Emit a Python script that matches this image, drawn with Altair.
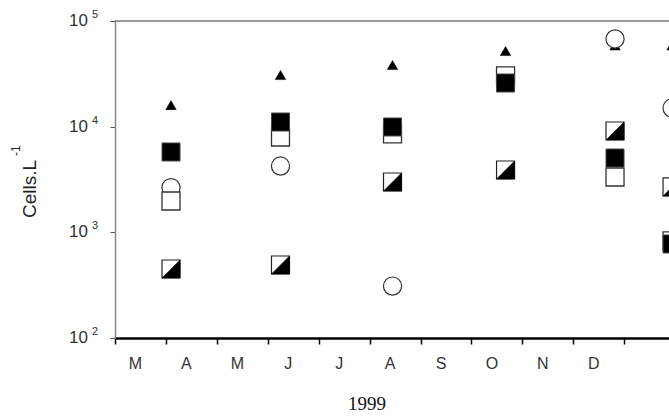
import altair as alt
import pandas as pd

months = ["M", "A", "M", "J", "J", "A", "S", "O", "N", "D"]
col_x = [1.10, 3.25, 5.45, 7.67, 9.82, 10.94]
triangle_vals = [16000, 30800, 38300, 52000, 58700, 58700]
circle_vals = [2650, 4240, 310, None, 67600, 15000]
open_sq_vals = [1980, 7980, 8530, 30200, 3340, 830]
filled_sq_vals = [5760, 11070, 9930, 25900, 5050, 776]
half_sq_vals = [450, 491, 2995, 3890, 9100, 2690]
y_exponents = [2, 3, 4, 5]
x_domain_max = 10.88
year_label = "1999"


def frame(vals):
    pts = [(x, v) for x, v in zip(col_x, vals) if v is not None]
    return pd.DataFrame({"x": [p[0] for p in pts], "y": [p[1] for p in pts]})


W, H = 554, 317
FONT = "Liberation Sans"

xs = alt.Scale(domain=[0, x_domain_max], nice=False, zero=False)
ys = alt.Scale(type="log", domain=[100, 100000], nice=False)

label_expr = "[" + ",".join("'%s'" % m for m in months) + "][datum.value] || ''"
x_axis = alt.Axis(values=list(range(11)), labelExpr=label_expr, labelOffset=20,
                  tickSize=6, tickColor="#000", tickWidth=1.5,
                  domainColor="#000", domainWidth=2.5,
                  labelFont=FONT, labelFontSize=16, labelColor="#333",
                  labelPadding=11, grid=False, title=None,
                  labelFlush=False, labelOverlap=False)
y_axis = alt.Axis(values=[100, 1000, 10000, 100000], labels=False,
                  tickSize=5, tickColor="#555", tickWidth=1,
                  domainColor="#888", domainWidth=1.5, grid=False, title=None)

X = alt.X("x:Q", scale=xs, axis=x_axis)
Y = alt.Y("y:Q", scale=ys, axis=y_axis)


def pts(vals, **kw):
    return alt.Chart(frame(vals)).mark_point(clip=True, opacity=1, **kw).encode(x=X, y=Y)


tri = pts(triangle_vals, shape="triangle-up", filled=True, fill="black",
          stroke="black", strokeWidth=0.5, size=110)
circ = pts(circle_vals, shape="circle", filled=True, fill="white",
           stroke="#333", strokeWidth=1.2, size=330)
open_sq = pts(open_sq_vals, shape="square", filled=True, fill="white",
              stroke="#333", strokeWidth=1.3, size=324)
filled_sq = pts(filled_sq_vals, shape="square", filled=True, fill="black",
                stroke="#444", strokeWidth=1.0, size=324)
half_bg = pts(half_sq_vals, shape="square", filled=True, fill="white",
              stroke="#222", strokeWidth=1.2, size=324)
half_fg = pts(half_sq_vals, shape="M1,-1L1,1L-1,1Z", filled=True, fill="black",
              stroke="black", strokeWidth=0.5, size=324)

top_line = alt.Chart(pd.DataFrame({"a": [0]})).mark_rule(
    color="#333", strokeWidth=1).encode(
    x=alt.value(0), x2=alt.value(W), y=alt.value(0))

lab_df = pd.DataFrame({"y": [10 ** e for e in y_exponents],
                       "e": [str(e) for e in y_exponents]})
ten = alt.Chart(lab_df).mark_text(
    text="10", align="right", baseline="alphabetic", dy=5,
    font=FONT, fontSize=17, color="#333").encode(
    x=alt.value(-27), y=alt.Y("y:Q", scale=ys, axis=y_axis))
expo = alt.Chart(lab_df).mark_text(
    align="left", baseline="alphabetic", dy=-3,
    font=FONT, fontSize=11, color="#333").encode(
    x=alt.value(-23), y=alt.Y("y:Q", scale=ys, axis=y_axis), text="e:N")

ytitle = alt.Chart(pd.DataFrame({"t": ["Cells.L"]})).mark_text(
    angle=270, align="left", baseline="middle",
    font=FONT, fontSize=19, color="#222").encode(
    x=alt.value(-85), y=alt.value(197), text="t:N")
ysup = alt.Chart(pd.DataFrame({"t": ["-1"]})).mark_text(
    angle=270, align="left", baseline="middle",
    font=FONT, fontSize=12, color="#222").encode(
    x=alt.value(-99), y=alt.value(135), text="t:N")
xtitle = alt.Chart(pd.DataFrame({"t": [year_label]})).mark_text(
    align="center", baseline="alphabetic",
    font="Liberation Serif", fontSize=19, color="#111").encode(
    x=alt.value(252), y=alt.value(389), text="t:N")

chart = alt.layer(
    top_line, tri, circ, open_sq, filled_sq, half_bg, half_fg,
    ten, expo, ytitle, ysup, xtitle
).properties(
    width=W, height=H,
    autosize=alt.AutoSizeParams(type="none"),
    padding={"left": 115, "top": 21, "right": 0, "bottom": 79},
    background="white",
).configure_view(stroke=None)

chart.save("out.html", embed_options={"renderer": "svg", "actions": False})
